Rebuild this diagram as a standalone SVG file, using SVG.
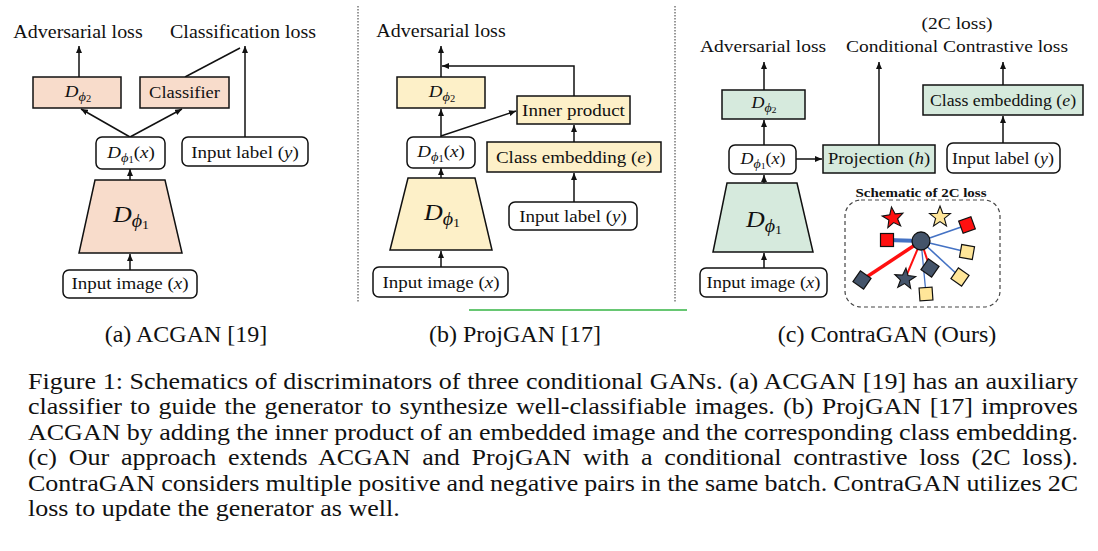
<svg xmlns="http://www.w3.org/2000/svg" width="1098" height="551" viewBox="0 0 1098 551">
<style>
text{font-family:"Liberation Serif","Times New Roman",serif;fill:#111}
.t{font-size:20px}
.b{font-size:19px}
.m{font-style:italic}
.box{stroke:#111;stroke-width:1.5}
.pa{fill:#f8dccb}.pb{fill:#fdf0c8}.pc{fill:#d6eadd}
.wb{fill:#fff;stroke:#111;stroke-width:1.5}
.ln{stroke:#111;stroke-width:1.5;fill:none}
.ar{stroke:#111;stroke-width:1.5;fill:none;marker-end:url(#ah)}
.div{stroke:#333;stroke-width:1;stroke-dasharray:1.5 1.5}
.cap{font-size:26px}
.sub{font-size:24px}
.bl{stroke:#4472c4}.rd{stroke:#ff1010}
</style>
<defs>
<marker id="ah" markerUnits="userSpaceOnUse" markerWidth="8" markerHeight="6" refX="7" refY="3" orient="auto"><path d="M0,0 L7,3 L0,6 z" fill="#111"/></marker>
<polygon id="star" points="0,-11 2.72,-3.74 10.46,-3.4 4.39,1.43 6.47,8.9 0,4.62 -6.47,8.9 -4.39,1.43 -10.46,-3.4 -2.72,-3.74" stroke="#111" stroke-width="1.1"/>
<rect id="sqr" x="-6.5" y="-6.5" width="13" height="13" stroke="#111" stroke-width="1.2"/>
</defs>
<rect width="1098" height="551" fill="#fff"/>

<g id="dividers">
<line class="div" x1="358" y1="6" x2="358" y2="302"/>
<line class="div" x1="675" y1="6" x2="675" y2="303"/>
<line x1="469" y1="310" x2="687" y2="310" stroke="#34b444" stroke-width="1.5"/>
</g>

<g id="connectors">
<line class="ar" x1="79" y1="77" x2="79" y2="46"/>
<line class="ln" x1="185" y1="77" x2="240" y2="48"/>
<line class="ar" x1="245" y1="137" x2="245" y2="46"/>
<line class="ar" x1="130" y1="137" x2="81" y2="109"/>
<line class="ar" x1="130" y1="137" x2="182" y2="109"/>
<line class="ar" x1="130" y1="180" x2="130" y2="169"/>
<line class="ar" x1="130" y1="270" x2="130" y2="254"/>
<line class="ar" x1="441" y1="77" x2="441" y2="46"/>
<polyline class="ar" points="574,96 574,66 442,66"/>
<line class="ar" x1="441" y1="137" x2="441" y2="109"/>
<line class="ar" x1="441" y1="136" x2="516" y2="111"/>
<line class="ar" x1="574" y1="142" x2="574" y2="125"/>
<line class="ar" x1="574" y1="202" x2="574" y2="173"/>
<line class="ar" x1="441" y1="178" x2="441" y2="168"/>
<line class="ar" x1="441" y1="267" x2="441" y2="251"/>
<line class="ar" x1="764" y1="90" x2="764" y2="62"/>
<line class="ar" x1="1003" y1="85" x2="1003" y2="62"/>
<line class="ar" x1="879" y1="145" x2="879" y2="62"/>
<line class="ar" x1="796" y1="159" x2="822" y2="159"/>
<line class="ar" x1="1003" y1="143" x2="1003" y2="116"/>
<line class="ar" x1="764" y1="145" x2="764" y2="120"/>
<line class="ar" x1="764" y1="183" x2="764" y2="175"/>
<line class="ar" x1="764" y1="268" x2="764" y2="253"/>
</g>

<g id="a-adv"><text class="t" text-anchor="middle" transform="translate(78,38) scale(1,0.9)">Adversarial loss</text></g>
<g id="a-cls-loss"><text class="t" text-anchor="middle" transform="translate(243,38) scale(1,0.9)">Classification loss</text></g>
<g id="a-d2"><rect class="box pa" x="33" y="77" width="88" height="31"/>
<text text-anchor="middle" transform="translate(78,97) scale(1,0.9)"><tspan class="m" font-size="19">D</tspan><tspan class="m" font-size="14.5" dy="4">ϕ</tspan><tspan font-size="10.5" dy="1.5">2</tspan></text></g>
<g id="a-classifier"><rect class="box pa" x="140" y="77" width="89" height="31"/>
<text text-anchor="middle" font-size="18.5" transform="translate(184.5,98) scale(1,0.9)">Classifier</text></g>
<g id="a-d1x"><rect class="wb" x="96" y="137" width="69" height="32" rx="6"/>
<text text-anchor="middle" transform="translate(131,158) scale(1,0.9)"><tspan class="m" font-size="19">D</tspan><tspan class="m" font-size="14.5" dy="4">ϕ</tspan><tspan font-size="10.5" dy="1.5">1</tspan><tspan font-size="19" dy="-5.5">(</tspan><tspan class="m" font-size="19">x</tspan><tspan font-size="19">)</tspan></text></g>
<g id="a-label"><rect class="wb" x="182" y="137" width="126" height="29" rx="6"/>
<text class="b" text-anchor="middle" transform="translate(245,158) scale(1,0.9)">Input label (<tspan class="m">y</tspan>)</text></g>
<g id="a-disc"><polygon class="box pa" points="95,180 165,180 182,253 79,253"/>
<text text-anchor="middle" transform="translate(131,222) scale(1,0.9)"><tspan class="m" font-size="26">D</tspan><tspan class="m" font-size="20" dy="6">ϕ</tspan><tspan font-size="14" dy="2">1</tspan></text></g>
<g id="a-img"><rect class="wb" x="63" y="270" width="134" height="28" rx="6"/>
<text class="b" text-anchor="middle" transform="translate(130,289) scale(1,0.9)">Input image (<tspan class="m">x</tspan>)</text></g>

<g id="b-adv"><text class="t" text-anchor="middle" transform="translate(441,37) scale(1,0.9)">Adversarial loss</text></g>
<g id="b-d2"><rect class="box pb" x="397" y="77" width="88" height="31"/>
<text text-anchor="middle" transform="translate(442,97) scale(1,0.9)"><tspan class="m" font-size="19">D</tspan><tspan class="m" font-size="14.5" dy="4">ϕ</tspan><tspan font-size="10.5" dy="1.5">2</tspan></text></g>
<g id="b-inner"><rect class="box pb" x="517" y="96" width="113" height="28"/>
<text class="b" text-anchor="middle" transform="translate(573.5,116) scale(1,0.9)">Inner product</text></g>
<g id="b-d1x"><rect class="wb" x="407" y="137" width="68" height="31" rx="6"/>
<text text-anchor="middle" transform="translate(441,157) scale(1,0.9)"><tspan class="m" font-size="19">D</tspan><tspan class="m" font-size="14.5" dy="4">ϕ</tspan><tspan font-size="10.5" dy="1.5">1</tspan><tspan font-size="19" dy="-5.5">(</tspan><tspan class="m" font-size="19">x</tspan><tspan font-size="19">)</tspan></text></g>
<g id="b-emb"><rect class="box pb" x="487" y="142" width="174" height="30"/>
<text class="b" text-anchor="middle" transform="translate(574,163) scale(1,0.9)">Class embedding (<tspan class="m">e</tspan>)</text></g>
<g id="b-label"><rect class="wb" x="509" y="202" width="128" height="28" rx="6"/>
<text class="b" text-anchor="middle" transform="translate(573,222) scale(1,0.9)">Input label (<tspan class="m">y</tspan>)</text></g>
<g id="b-disc"><polygon class="box pb" points="408,178 475,178 492,250 390,250"/>
<text text-anchor="middle" transform="translate(442,220) scale(1,0.9)"><tspan class="m" font-size="26">D</tspan><tspan class="m" font-size="20" dy="6">ϕ</tspan><tspan font-size="14" dy="2">1</tspan></text></g>
<g id="b-img"><rect class="wb" x="373" y="267" width="135" height="30" rx="6"/>
<text class="b" text-anchor="middle" transform="translate(441,288) scale(1,0.9)">Input image (<tspan class="m">x</tspan>)</text></g>

<g id="c-2c"><text text-anchor="middle" font-size="19.5" transform="translate(957,29) scale(1,0.9)">(2C loss)</text></g>
<g id="c-adv"><text text-anchor="middle" font-size="19.5" transform="translate(763,52) scale(1,0.9)">Adversarial loss</text></g>
<g id="c-con"><text text-anchor="middle" font-size="19.5" transform="translate(957,52) scale(1,0.9)">Conditional Contrastive loss</text></g>
<g id="c-d2"><rect class="box pc" x="722" y="90" width="83" height="29"/>
<text text-anchor="middle" transform="translate(764,108) scale(1,0.9)"><tspan class="m" font-size="18">D</tspan><tspan class="m" font-size="14" dy="4">ϕ</tspan><tspan font-size="10" dy="1.5">2</tspan></text></g>
<g id="c-emb"><rect class="box pc" x="923" y="85" width="160" height="30"/>
<text text-anchor="middle" font-size="17.8" transform="translate(1003,106) scale(1,0.9)">Class embedding (<tspan class="m">e</tspan>)</text></g>
<g id="c-d1x"><rect class="wb" x="729" y="145" width="67" height="29" rx="6"/>
<text text-anchor="middle" transform="translate(763,164) scale(1,0.9)"><tspan class="m" font-size="18">D</tspan><tspan class="m" font-size="14" dy="4">ϕ</tspan><tspan font-size="10" dy="1.5">1</tspan><tspan font-size="18" dy="-5.5">(</tspan><tspan class="m" font-size="18">x</tspan><tspan font-size="18">)</tspan></text></g>
<g id="c-proj"><rect class="box pc" x="823" y="145" width="112" height="28"/>
<text text-anchor="middle" font-size="18.5" transform="translate(879,164) scale(1,0.9)">Projection (<tspan class="m">h</tspan>)</text></g>
<g id="c-label"><rect class="wb" x="947" y="143" width="113" height="30" rx="6"/>
<text text-anchor="middle" font-size="18" transform="translate(1003,164) scale(1,0.9)">Input label (<tspan class="m">y</tspan>)</text></g>
<g id="c-disc"><polygon class="box pc" points="727,183 797,183 813,252 713,252"/>
<text text-anchor="middle" transform="translate(764,227) scale(1,0.9)"><tspan class="m" font-size="26">D</tspan><tspan class="m" font-size="20" dy="6">ϕ</tspan><tspan font-size="14" dy="2">1</tspan></text></g>
<g id="c-img"><rect class="wb" x="700" y="268" width="127" height="29" rx="6"/>
<text text-anchor="middle" font-size="18.5" transform="translate(763.5,288) scale(1,0.9)">Input image (<tspan class="m">x</tspan>)</text></g>

<g id="schematic">
<rect x="845" y="200" width="155" height="107" rx="16" fill="none" stroke="#444" stroke-width="1.2" stroke-dasharray="4 3"/>
<text text-anchor="middle" font-size="15" font-weight="bold" transform="translate(921,197) scale(1,0.9)">Schematic of 2C loss</text>
<line class="bl" x1="887" y1="240" x2="921" y2="241" stroke-width="4"/>
<line class="bl" x1="921" y1="241" x2="967" y2="225" stroke-width="1.6"/>
<line class="bl" x1="921" y1="241" x2="967" y2="252" stroke-width="1.6"/>
<line class="bl" x1="921" y1="241" x2="960" y2="277" stroke-width="1.6"/>
<line class="bl" x1="921" y1="241" x2="926" y2="294" stroke-width="1.3"/>
<line class="rd" x1="921" y1="241" x2="930" y2="268" stroke-width="2"/>
<line class="rd" x1="921" y1="241" x2="905" y2="279" stroke-width="2"/>
<line class="rd" x1="921" y1="241" x2="862" y2="280" stroke-width="3.5"/>
<use href="#star" fill="#ff1010" transform="translate(893,218) rotate(-8)"/>
<use href="#star" fill="#ffe699" transform="translate(940,217)"/>
<use href="#sqr" fill="#ff1010" transform="translate(887,240)"/>
<use href="#sqr" fill="#ff1010" transform="translate(967,225) rotate(-20)"/>
<use href="#sqr" fill="#ffe699" transform="translate(967,252) rotate(10)"/>
<use href="#sqr" fill="#ffe699" transform="translate(960,277) rotate(35)"/>
<use href="#sqr" fill="#ffe699" transform="translate(926,294) rotate(-4)"/>
<use href="#sqr" fill="#44546a" transform="translate(930,268) rotate(35)"/>
<use href="#sqr" fill="#44546a" transform="translate(862,280) rotate(35)"/>
<use href="#star" fill="#44546a" transform="translate(905,279) rotate(5)"/>
<circle cx="921" cy="241" r="9" fill="#44546a" stroke="#111" stroke-width="1.3"/>
</g>

<g id="subcaptions">
<text class="sub" text-anchor="middle" transform="translate(186,342) scale(1,0.92)">(a) ACGAN [19]</text>
<text class="sub" text-anchor="middle" transform="translate(515,342) scale(1,0.92)">(b) ProjGAN [17]</text>
<text class="sub" text-anchor="middle" transform="translate(887,342) scale(1,0.92)">(c) ContraGAN (Ours)</text>
</g>
<g id="caption">
<text class="cap" word-spacing="0.2" textLength="1050" lengthAdjust="spacing" transform="translate(28,389) scale(1,0.92)">Figure 1: Schematics of discriminators of three conditional GANs. (a) ACGAN [19] has an auxiliary</text>
<text class="cap" word-spacing="1.75" textLength="1050" lengthAdjust="spacing" transform="translate(28,414.4) scale(1,0.92)">classifier to guide the generator to synthesize well-classifiable images. (b) ProjGAN [17] improves</text>
<text class="cap" word-spacing="-0.15" textLength="1050" lengthAdjust="spacing" transform="translate(28,439.8) scale(1,0.92)">ACGAN by adding the inner product of an embedded image and the corresponding class embedding.</text>
<text class="cap" word-spacing="5.2" textLength="1050" lengthAdjust="spacing" transform="translate(28,465.2) scale(1,0.92)">(c) Our approach extends ACGAN and ProjGAN with a conditional contrastive loss (2C loss).</text>
<text class="cap" word-spacing="-0.45" textLength="1050" lengthAdjust="spacing" transform="translate(28,490.6) scale(1,0.92)">ContraGAN considers multiple positive and negative pairs in the same batch. ContraGAN utilizes 2C</text>
<text class="cap" transform="translate(28,516) scale(1,0.92)">loss to update the generator as well.</text>
</g>
</svg>
